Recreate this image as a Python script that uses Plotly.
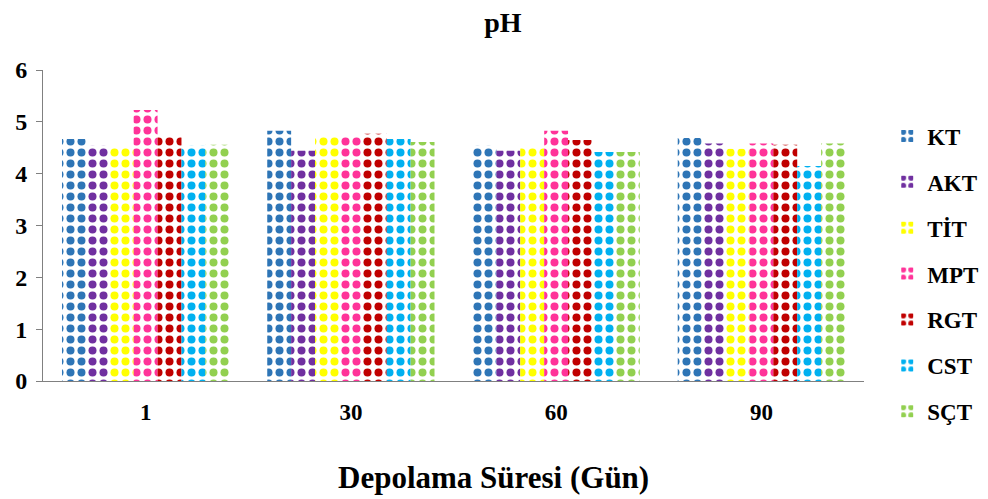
import plotly.graph_objects as go

categories = ["1", "30", "60", "90"]
series_names = ["KT", "AKT", "TİT", "MPT", "RGT", "CST", "SÇT"]
KT = [4.67, 4.83, 4.54, 4.69]
AKT = [4.54, 4.44, 4.44, 4.58]
TIT = [4.52, 4.71, 4.52, 4.48]
MPT = [5.23, 4.71, 4.83, 4.58]
RGT = [4.73, 4.77, 4.65, 4.56]
CST = [4.54, 4.67, 4.42, 4.15]
SCT = [4.56, 4.61, 4.42, 4.58]
values = [KT, AKT, TIT, MPT, RGT, CST, SCT]
colors = ["#2E75B6", "#7030A0", "#FFFF00", "#FF3399", "#C00000", "#00B0F0", "#92D050"]

font_family = "Liberation Serif, Times New Roman, serif"

fig = go.Figure()
for name, vals, col in zip(series_names, values, colors):
    fig.add_trace(go.Bar(
        x=categories, y=vals, name=name, legendgroup=name,
        marker=dict(
            color="white",
            line=dict(width=0),
            pattern=dict(shape=".", fgcolor=col, bgcolor="white", size=11, solidity=0.42, fillmode="replace"),
        ),
    ))

fig.update_layout(
    width=988, height=499,
    margin=dict(l=43, r=124, t=70, b=118, autoexpand=False),
    paper_bgcolor="white", plot_bgcolor="white",
    barmode="group", bargap=0.185, bargroupgap=0,
    font=dict(family=font_family, color="black", size=18, weight="bold"),
    title=dict(text="pH", x=0.509, xanchor="center", y=0.955, yanchor="middle",
               font=dict(size=28, family=font_family, weight="bold")),
    legend=dict(xref="container", x=0.898, xanchor="left", yref="container", y=0.451, yanchor="middle",
                tracegroupgap=13,
                font=dict(size=23, family=font_family, weight="bold"), itemwidth=30,
                maxheight=480),
    showlegend=True,
    annotations=[dict(text="Depolama Süresi (Gün)", xref="paper", yref="paper",
                      x=0.549, y=-0.31, xanchor="center", yanchor="middle", showarrow=False,
                      font=dict(size=31, family=font_family, weight="bold", color="black"))],
)
fig.update_xaxes(
    showline=True, linecolor="#808080", linewidth=1, ticks="", showgrid=False,
    tickfont=dict(size=23, family=font_family, weight="bold"),
    ticklabelstandoff=10,
)
fig.update_yaxes(
    range=[0, 6], dtick=1, showline=True, linecolor="#808080", linewidth=1,
    ticks="outside", ticklen=6, tickcolor="#808080", showgrid=False, zeroline=False,
    tickfont=dict(size=24, family=font_family, weight="bold"),
    ticklabelstandoff=4,
)

fig.write_html("out.html")
